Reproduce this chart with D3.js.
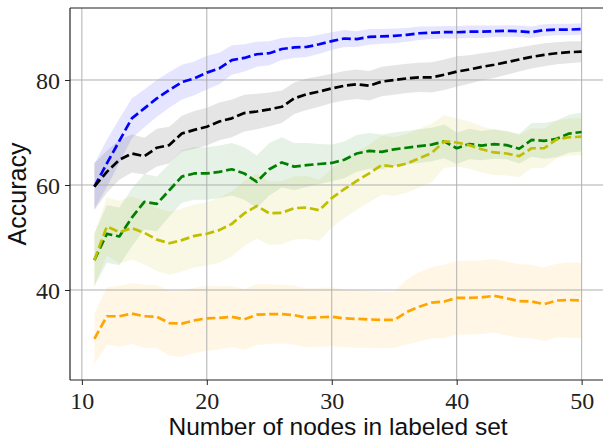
<!DOCTYPE html>
<html>
<head>
<meta charset="utf-8">
<script src="https://cdn.jsdelivr.net/npm/d3@7"></script>
<style>
  html, body { margin: 0; padding: 0; background: #fff; }
  svg { display: block; }
</style>
</head>
<body>
<svg id="chart" width="603" height="441"></svg>
<script>
// ---- data ----
const nodes = [11,12,13,14,15,16,17,18,19,20,21,22,23,24,25,26,27,28,29,30,
               31,32,33,34,35,36,37,38,39,40,41,42,43,44,45,46,47,48,49,50];

const blueMean = [59.7,64.1,68.4,72.7,74.6,76.5,78.1,79.6,80.3,81.4,82.2,83.8,84.2,84.9,85.1,85.9,86.2,86.3,86.8,87.4,
                  87.9,87.8,88.2,88.3,88.4,88.6,88.9,89.0,89.1,89.1,89.2,89.2,89.3,89.35,89.3,89.1,89.5,89.6,89.6,89.7];
const blueSd   = [4.3,4.5,4.2,3.8,3.6,3.5,3.4,3.3,3.2,3.2,3.0,2.8,2.6,2.4,2.3,2.1,2.0,1.9,1.8,1.7,
                  1.6,1.5,1.5,1.4,1.4,1.3,1.3,1.2,1.2,1.2,1.2,1.2,1.1,1.1,1.1,1.1,1.1,1.1,1.1,1.1];

const blackMean = [59.7,62.5,64.8,66.0,65.5,67.1,67.6,69.8,70.5,71.1,72.1,72.7,73.7,74.0,74.4,74.9,76.5,77.3,77.8,78.4,
                   78.9,79.2,78.9,79.7,80.0,80.3,80.5,80.5,81.0,81.6,82.0,82.5,82.9,83.4,83.9,84.4,84.8,85.1,85.3,85.4];
const blackSd   = [4.5,4.0,3.8,3.6,3.5,3.6,3.5,3.4,3.6,3.6,3.6,3.6,3.5,3.4,3.2,3.1,3.0,3.0,2.9,2.8,
                   2.8,2.8,2.8,2.8,2.8,2.8,2.8,2.9,2.9,2.9,2.7,2.6,2.5,2.4,2.3,2.2,2.2,2.1,2.1,2.0];

const greenMean = [45.7,50.7,50.2,53.8,56.8,56.4,59.0,61.6,62.2,62.2,62.5,63.0,62.2,60.6,63.0,64.3,63.5,63.8,64.0,64.2,
                   64.8,66.0,66.5,66.3,66.8,67.1,67.4,67.7,68.3,67.0,67.8,67.5,67.8,67.6,66.9,68.6,68.4,68.8,69.8,70.1];
const greenSd   = [5.0,5.5,5.5,5.5,5.3,5.2,5.0,5.0,5.0,5.0,5.0,5.0,5.0,5.0,5.0,4.8,4.5,4.2,3.8,3.5,
                   3.5,3.5,3.4,3.3,3.2,3.2,3.2,3.2,3.2,3.0,2.9,2.8,2.8,2.7,2.8,3.2,3.4,3.5,3.6,3.7];

const yellowMean = [45.7,52.1,51.0,51.8,50.9,49.6,48.9,49.5,50.3,50.7,51.4,52.6,54.6,56.0,54.6,54.7,55.6,55.7,55.2,57.5,
                    59.2,60.8,62.2,63.8,63.5,64.1,65.1,66.1,68.3,68.1,67.6,66.8,66.2,66.0,65.5,67.0,67.0,68.7,69.1,69.2];
const yellowSd   = [5.0,5.5,6.0,6.0,6.0,6.0,6.0,6.0,6.0,6.0,6.2,6.2,6.2,6.2,6.0,6.0,6.0,6.0,5.8,5.6,
                    5.5,5.5,5.5,5.6,5.6,5.6,5.6,5.6,5.0,4.6,4.5,4.4,4.3,4.2,4.0,3.8,3.7,3.6,3.5,3.5];

const orangeMean = [30.7,35.0,35.0,35.5,35.0,34.9,33.7,33.6,34.2,34.6,34.7,34.9,34.4,35.3,35.4,35.4,35.2,34.7,34.8,34.9,
                    34.6,34.5,34.4,34.3,34.3,35.8,36.8,37.6,37.8,38.5,38.5,38.6,38.9,38.4,37.9,37.8,37.3,38.0,38.1,38.0];
const orangeSd   = [4.8,5.5,5.8,5.8,6.0,6.0,6.2,6.3,6.2,6.2,6.0,5.8,5.8,5.8,5.7,5.6,5.6,5.6,5.6,5.6,
                    5.5,5.5,5.4,5.4,5.3,6.2,6.6,6.8,7.0,7.0,7.0,7.0,7.0,7.0,7.0,7.0,7.0,7.0,7.2,7.2];

const xTicks = [10, 20, 30, 40, 50];
const yTicks = [40, 60, 80];

const series = [
  { mean: blueMean,   sd: blueSd,   color: "#0000ff" },
  { mean: blackMean,  sd: blackSd,  color: "#000000" },
  { mean: greenMean,  sd: greenSd,  color: "#008000" },
  { mean: yellowMean, sd: yellowSd, color: "#bfbf00" },
  { mean: orangeMean, sd: orangeSd, color: "#ffa500" }
];

// ---- layout ----
const svg = d3.select("#chart");
const mLeft = 70, mRight = 606, mTop = 8, mBottom = 380;

const x = d3.scaleLinear().domain([9.05, 51.95]).range([mLeft, mRight]);
const y = d3.scaleLinear().domain([22.857, 93.714]).range([mBottom, mTop]);

// bands
const area = d3.area()
  .x((d, i) => x(nodes[i]))
  .y0(d => y(d[0]))
  .y1(d => y(d[1]));

series.forEach(s => {
  const band = s.mean.map((m, i) => [m - s.sd[i], m + s.sd[i]]);
  svg.append("path")
    .datum(band)
    .attr("d", area)
    .attr("fill", s.color)
    .attr("fill-opacity", 0.1)
    .attr("stroke", "none");
});

// grid
const grid = svg.append("g");
xTicks.forEach(t => {
  grid.append("line")
    .attr("x1", x(t)).attr("x2", x(t))
    .attr("y1", mTop).attr("y2", mBottom)
    .attr("stroke", "#b0b0b0").attr("stroke-width", 1);
});
yTicks.forEach(t => {
  grid.append("line")
    .attr("x1", mLeft).attr("x2", mRight)
    .attr("y1", y(t)).attr("y2", y(t))
    .attr("stroke", "#b0b0b0").attr("stroke-width", 1);
});

// lines
const line = d3.line()
  .x((d, i) => x(nodes[i]))
  .y(d => y(d));

series.forEach(s => {
  svg.append("path")
    .datum(s.mean)
    .attr("d", line)
    .attr("fill", "none")
    .attr("stroke", s.color)
    .attr("stroke-width", 2.7)
    .attr("stroke-dasharray", "9,3.8")
    .attr("stroke-linejoin", "round");
});

// axes
const xAxis = d3.axisBottom(x).tickValues(xTicks).tickSize(5).tickPadding(4);
const yAxis = d3.axisLeft(y).tickValues(yTicks).tickSize(5).tickPadding(5);

const gx = svg.append("g").attr("transform", `translate(0,${mBottom})`).call(xAxis);
const gy = svg.append("g").attr("transform", `translate(${mLeft},0)`).call(yAxis);

[gx, gy].forEach(g => {
  g.attr("font-family", "Liberation Serif").attr("font-size", 24);
  g.select(".domain").remove();
  g.selectAll(".tick line").attr("stroke", "#222").attr("stroke-width", 1);
  g.selectAll(".tick text")
    .attr("fill", "#222")
    .attr("font-family", "Liberation Serif")
    .attr("font-size", 24);
});
gx.selectAll(".tick text").attr("dy", "0.82em");
gy.selectAll(".tick text").attr("dy", "0.34em");

// spines
const spine = svg.append("g").attr("stroke", "#222").attr("stroke-width", 1.2).attr("fill", "none");
spine.append("line").attr("x1", mLeft).attr("x2", mRight).attr("y1", mTop).attr("y2", mTop);
spine.append("line").attr("x1", mLeft).attr("x2", mRight).attr("y1", mBottom).attr("y2", mBottom);
spine.append("line").attr("x1", mLeft).attr("x2", mLeft).attr("y1", mTop).attr("y2", mBottom);
spine.append("line").attr("x1", mRight).attr("x2", mRight).attr("y1", mTop).attr("y2", mBottom);

// labels
svg.append("text")
  .attr("x", (mLeft + mRight) / 2)
  .attr("y", 435)
  .attr("text-anchor", "middle")
  .attr("fill", "#111")
  .attr("font-family", "Liberation Sans")
  .attr("font-size", 24.5)
  .text("Number of nodes in labeled set");

svg.append("text")
  .attr("transform", `translate(26,${(mTop + mBottom) / 2}) rotate(-90)`)
  .attr("text-anchor", "middle")
  .attr("fill", "#111")
  .attr("font-family", "Liberation Sans")
  .attr("font-size", 25)
  .text("Accuracy");
</script>
</body>
</html>
